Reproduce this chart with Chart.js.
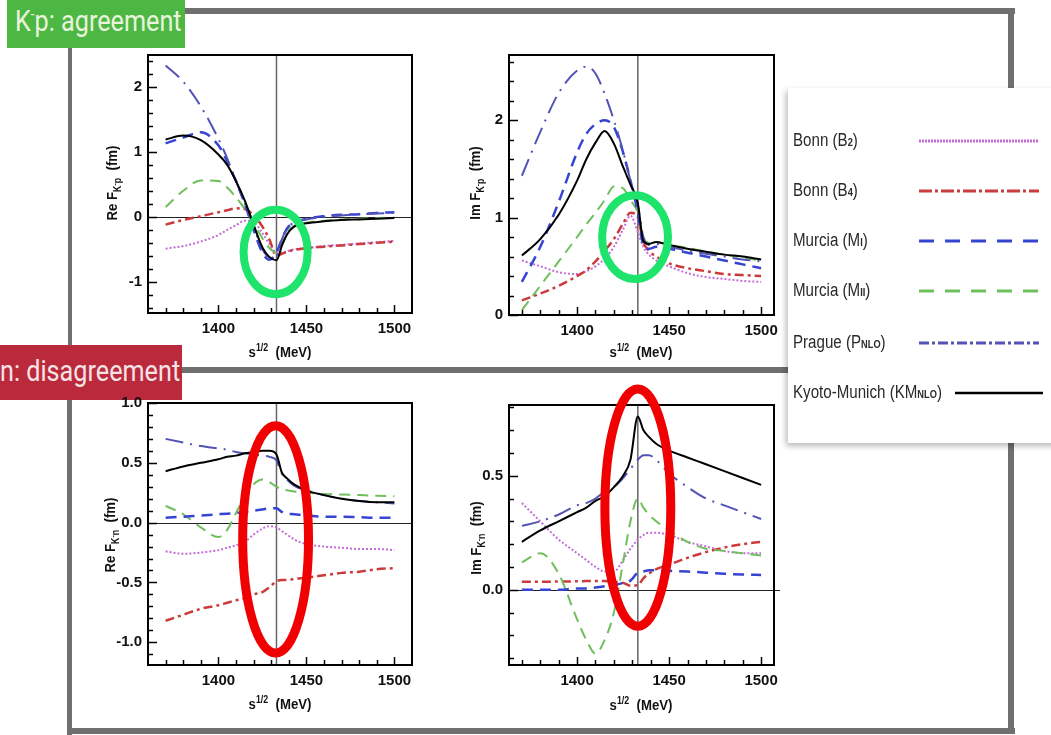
<!DOCTYPE html>
<html>
<head>
<meta charset="utf-8">
<title>K-N amplitudes</title>
<script src="https://cdn.jsdelivr.net/npm/chart.js@4.4.0/dist/chart.umd.min.js"></script>
<style>
  body { margin: 0; width: 1051px; height: 735px; overflow: hidden; background: #fff; position: relative; }
  .bar { position: absolute; background: #6f6f6f; }
  canvas { position: absolute; }
  .badge { position: absolute; overflow: hidden; font-family: Roboto, "Liberation Sans", sans-serif; font-size: 30px; white-space: nowrap; }
  .badge span { position: absolute; transform: scaleX(0.84); transform-origin: 0 0; }
  .ytitle, .xtitle { position: absolute; white-space: nowrap; font: bold 15px "Liberation Sans", Arial, sans-serif; color: #111; }
  .ytitle { transform: translate(-50%, -50%) rotate(-90deg) scaleX(0.88); }
  .xtitle { transform: translate(-50%, -50%) scaleX(0.88); }
  .ytitle sub, .xtitle sup { font-size: 10px; }
  .ytitle sub sup { font-size: 8px; }
  #legend { position: absolute; left: 788px; top: 88px; width: 290px; height: 355px; background: #fff;
            box-shadow: -2px 3px 6px rgba(0,0,0,0.28); }
  #legend .lab { position: absolute; left: 5px; transform: translateY(-50%) scaleX(0.84); transform-origin: 0 50%;
                 white-space: nowrap; font: 18px "Liberation Sans", Arial, sans-serif; color: #2a2a2a; }
  #legend .lab small { font-size: 11px; font-weight: bold; }
  #legend svg { position: absolute; left: 0; top: 0; }
</style>
</head>
<body>

<div class="bar" style="left:185px;top:8px;width:830px;height:6px"></div>
<div class="bar" style="left:1008px;top:8px;width:6px;height:82px"></div>
<div class="bar" style="left:68px;top:48px;width:4px;height:300px"></div>
<div class="bar" style="left:181px;top:367px;width:610px;height:6px"></div>
<div class="bar" style="left:67px;top:399px;width:5px;height:336px"></div>
<div class="bar" style="left:67px;top:728px;width:948px;height:6px"></div>
<div class="bar" style="left:1008px;top:440px;width:6px;height:294px"></div>

<div class="badge" style="left:7px;top:0;width:178px;height:48px;background:#4cb843;color:#eaf4dc">
  <span style="left:8px;top:3px">K<sup style="font-size:16px">-</sup>p: agreement</span>
</div>
<div class="badge" style="left:0;top:345px;width:182px;height:55px;background:#bb2a3c;color:#f6e3e6">
  <span style="left:0;top:8px">n: disagreement</span>
</div>

<canvas id="reKp"></canvas>
<canvas id="imKp"></canvas>
<canvas id="reKn"></canvas>
<canvas id="imKn"></canvas>

<div class="ytitle" style="left:113px;top:183px">Re F<sub>K<sup>-</sup>p</sub>&nbsp;&nbsp;(fm)</div>
<div class="ytitle" style="left:476px;top:183px">Im F<sub>K<sup>-</sup>p</sub>&nbsp;&nbsp;(fm)</div>
<div class="ytitle" style="left:111px;top:535px">Re F<sub>K<sup>-</sup>n</sub>&nbsp;&nbsp;(fm)</div>
<div class="ytitle" style="left:477px;top:538px">Im F<sub>K<sup>-</sup>n</sub>&nbsp;&nbsp;(fm)</div>
<div class="xtitle" style="left:280px;top:351px">s<sup>1/2</sup>&nbsp;&nbsp;(MeV)</div>
<div class="xtitle" style="left:641px;top:351px">s<sup>1/2</sup>&nbsp;&nbsp;(MeV)</div>
<div class="xtitle" style="left:280px;top:703px">s<sup>1/2</sup>&nbsp;&nbsp;(MeV)</div>
<div class="xtitle" style="left:641px;top:704px">s<sup>1/2</sup>&nbsp;&nbsp;(MeV)</div>

<div id="legend"></div>

<script>
// c.m. energy grid (MeV), shared by every curve
const energies = [1370, 1380, 1390, 1400, 1405, 1410, 1415, 1420, 1425, 1429, 1433, 1436, 1439, 1443, 1450, 1460, 1470, 1480, 1490, 1500];
const energyLabels = [1400, 1450, 1500];
const threshold = 1433;

// Re F(K-p), fm
const reKpB2 = [-0.49, -0.45, -0.38, -0.28, -0.2, -0.13, -0.06, -0.08, -0.25, -0.42, -0.55, -0.55, -0.53, -0.5, -0.48, -0.45, -0.43, -0.41, -0.39, -0.37];
const reKpB4 = [-0.12, -0.05, 0.01, 0.07, 0.1, 0.13, 0.12, 0.02, -0.15, -0.35, -0.6, -0.57, -0.54, -0.51, -0.48, -0.46, -0.44, -0.42, -0.4, -0.38];
const reKpMI = [1.13, 1.22, 1.3, 1.1, 0.85, 0.55, 0.2, -0.2, -0.55, -0.66, -0.55, -0.35, -0.18, -0.09, -0.03, 0.01, 0.03, 0.04, 0.06, 0.07];
const reKpMII = [0.15, 0.4, 0.56, 0.55, 0.45, 0.3, 0.12, -0.1, -0.33, -0.48, -0.55, -0.4, -0.24, -0.14, -0.09, -0.06, -0.04, -0.03, -0.02, -0.01];
const reKpP = [2.33, 2.08, 1.7, 1.2, 0.9, 0.55, 0.2, -0.15, -0.5, -0.62, -0.6, -0.35, -0.18, -0.09, -0.04, 0.0, 0.02, 0.04, 0.05, 0.06];
const reKpKM = [1.19, 1.25, 1.18, 0.96, 0.8, 0.55, 0.25, -0.12, -0.47, -0.62, -0.67, -0.45, -0.27, -0.15, -0.1, -0.07, -0.05, -0.04, -0.03, -0.02];

// Im F(K-p), fm
const imKpB2 = [0.56, 0.5, 0.44, 0.42, 0.45, 0.5, 0.58, 0.7, 0.88, 1.02, 0.85, 0.7, 0.62, 0.56, 0.5, 0.43, 0.39, 0.37, 0.35, 0.34];
const imKpB4 = [0.15, 0.22, 0.3, 0.4, 0.46, 0.55, 0.66, 0.78, 0.94, 1.05, 1.0, 0.75, 0.66, 0.6, 0.53, 0.48, 0.45, 0.42, 0.41, 0.4];
const imKpMI = [0.34, 0.7, 1.16, 1.67, 1.86, 1.96, 2.0, 1.93, 1.67, 1.38, 1.05, 0.72, 0.68, 0.7, 0.68, 0.64, 0.6, 0.56, 0.52, 0.48];
const imKpMII = [0.05, 0.3, 0.55, 0.8, 0.93, 1.05, 1.18, 1.32, 1.3, 1.18, 1.05, 0.8, 0.74, 0.75, 0.72, 0.69, 0.65, 0.62, 0.59, 0.56];
const imKpP = [1.43, 1.88, 2.28, 2.51, 2.55, 2.48, 2.27, 2.0, 1.68, 1.38, 1.12, 0.8, 0.72, 0.73, 0.7, 0.66, 0.63, 0.6, 0.57, 0.55];
const imKpKM = [0.61, 0.78, 1.03, 1.38, 1.6, 1.77, 1.89, 1.76, 1.52, 1.34, 1.15, 0.76, 0.73, 0.75, 0.72, 0.68, 0.65, 0.62, 0.6, 0.57];

// Re F(K-n), fm
const reKnB2 = [-0.24, -0.26, -0.25, -0.23, -0.21, -0.19, -0.16, -0.1, -0.05, -0.03, -0.04, -0.07, -0.1, -0.14, -0.18, -0.2, -0.21, -0.22, -0.22, -0.23];
const reKnB4 = [-0.82, -0.77, -0.72, -0.69, -0.67, -0.65, -0.63, -0.6, -0.58, -0.54, -0.49, -0.48, -0.48, -0.47, -0.46, -0.44, -0.42, -0.41, -0.39, -0.38];
const reKnMI = [0.04, 0.05, 0.06, 0.07, 0.075, 0.08, 0.09, 0.1, 0.11, 0.12, 0.12, 0.09, 0.075, 0.07, 0.06, 0.05, 0.05, 0.045, 0.04, 0.04];
const reKnMII = [0.14, 0.07, -0.04, -0.12, -0.06, 0.08, 0.22, 0.32, 0.36, 0.34, 0.3, 0.28, 0.27, 0.26, 0.25, 0.24, 0.235, 0.23, 0.225, 0.22];
const reKnP = [0.7, 0.67, 0.64, 0.62, 0.61, 0.59, 0.58, 0.57, 0.56, 0.55, 0.52, 0.41, 0.36, 0.31, 0.27, 0.23, 0.2, 0.18, 0.17, 0.16];
const reKnKM = [0.43, 0.47, 0.5, 0.53, 0.55, 0.56, 0.58, 0.59, 0.6, 0.6, 0.57, 0.42, 0.37, 0.32, 0.27, 0.23, 0.2, 0.18, 0.17, 0.17];

// Im F(K-n), fm
const imKnB2 = [0.38, 0.3, 0.22, 0.16, 0.13, 0.1, 0.08, 0.08, 0.13, 0.18, 0.22, 0.24, 0.25, 0.25, 0.24, 0.21, 0.19, 0.17, 0.16, 0.16];
const imKnB4 = [0.035, 0.035, 0.036, 0.037, 0.038, 0.038, 0.038, 0.035, 0.03, 0.018, 0.02, 0.05, 0.07, 0.09, 0.11, 0.14, 0.165, 0.185, 0.2, 0.21];
const imKnMI = [0.0, 0.0, 0.0, 0.005, 0.005, 0.01, 0.015, 0.02, 0.03, 0.04, 0.075, 0.08, 0.085, 0.085, 0.083, 0.08, 0.075, 0.07, 0.067, 0.065];
const imKnMII = [0.12, 0.16, 0.07, -0.13, -0.22, -0.28, -0.22, -0.1, 0.12, 0.3, 0.4, 0.36, 0.33, 0.3, 0.26, 0.21, 0.18, 0.17, 0.16, 0.15];
const imKnP = [0.28, 0.3, 0.33, 0.37, 0.38, 0.4, 0.43, 0.45, 0.49, 0.53, 0.57, 0.59, 0.59, 0.57, 0.51, 0.45, 0.4, 0.37, 0.34, 0.31];
const imKnKM = [0.21, 0.26, 0.3, 0.34, 0.36, 0.39, 0.41, 0.45, 0.5, 0.57, 0.76, 0.7, 0.67, 0.64, 0.61, 0.58, 0.55, 0.52, 0.49, 0.46];

// model names and line styles (legend order)
const modelLabels = ['Bonn (B<small>2</small>)', 'Bonn (B<small>4</small>)', 'Murcia (M<small>I</small>)',
                     'Murcia (M<small>II</small>)', 'Prague (P<small>NLO</small>)', 'Kyoto-Munich (KM<small>NLO</small>)'];
const modelColors = ['#c56cd8', '#cc3b3b', '#3644d2', '#6fbf5c', '#5353b5', '#000000'];
const modelWidths = [2, 2.5, 2.5, 2, 2, 2];
const modelDashes = [[2, 2], [9, 4, 3, 4], [11, 7], [11, 7], [18, 7, 2, 7], []];
const legendDashes = [[2, 1], [13, 3, 3, 3], [15, 11], [15, 11], [10, 3, 3, 3], []];
const drawOrder = [5, 4, 2, 3, 1, 0];

const panels = [
  { id: 'reKp', area: { left: 148, top: 55, right: 412, bottom: 313 }, x: [1360, 1510], y: [-1.48, 2.49],
    minor: 0.2, major: 1, digits: 0, series: [reKpB2, reKpB4, reKpMI, reKpMII, reKpP, reKpKM],
    ring: { x: 1432.5, y: -0.54, rx: 18.2, ry: 0.65, color: '#1fe46c', width: 8 }, zeroOver: 0 },
  { id: 'imKp', area: { left: 509, top: 55, right: 774, bottom: 315 }, x: [1363, 1507], y: [0, 2.67],
    minor: 0.2, major: 1, digits: 0, series: [imKpB2, imKpB4, imKpMI, imKpMII, imKpP, imKpKM],
    ring: { x: 1431.5, y: 0.8, rx: 17.9, ry: 0.43, color: '#1fe46c', width: 8 }, zeroOver: 0 },
  { id: 'reKn', area: { left: 148, top: 403, right: 412, bottom: 665 }, x: [1360, 1510], y: [-1.19, 1.0],
    minor: 0.1, major: 0.5, digits: 1, series: [reKnB2, reKnB4, reKnMI, reKnMII, reKnP, reKnKM],
    ring: { x: 1432.5, y: -0.14, rx: 18.7, ry: 0.95, color: '#f00000', width: 9 }, zeroOver: 0 },
  { id: 'imKn', area: { left: 509, top: 405, right: 774, bottom: 665 }, x: [1363, 1507], y: [-0.33, 0.81],
    minor: 0.1, major: 0.5, digits: 1, series: [imKnB2, imKnB4, imKnMI, imKnMII, imKnP, imKnKM],
    ring: { x: 1433, y: 0.36, rx: 17.9, ry: 0.52, color: '#f00000', width: 9 }, zeroOver: 6 }
];

const tickFont = { family: '"Liberation Sans", Arial, sans-serif', size: 15, weight: 'bold' };

function isMultiple(v, step) {
  return Math.abs(v / step - Math.round(v / step)) < 1e-6;
}

function majorValues(min, max, step) {
  const out = [];
  for (let k = Math.ceil(min / step - 1e-6); k <= Math.floor(max / step + 1e-6); k++) out.push(k * step);
  return out;
}

// frame, inward tick marks, zero line, threshold line and highlight ring
const panelDeco = {
  id: 'panelDeco',
  beforeDatasetsDraw(chart, args, opts) {
    const { ctx, chartArea: a, scales: { x, y } } = chart;
    ctx.save();
    ctx.strokeStyle = '#222';
    ctx.lineWidth = 1.2;
    const y0 = Math.round(y.getPixelForValue(0)) + 0.5;
    ctx.beginPath();
    ctx.moveTo(a.left, y0);
    ctx.lineTo(a.right + opts.zeroOver, y0);
    ctx.stroke();
    ctx.strokeStyle = '#666';
    ctx.lineWidth = 1.5;
    const xt = x.getPixelForValue(threshold);
    ctx.beginPath();
    ctx.moveTo(xt, a.top);
    ctx.lineTo(xt, a.bottom);
    ctx.stroke();
    ctx.restore();
  },
  afterDraw(chart, args, opts) {
    const { ctx, chartArea: a, scales: { x, y } } = chart;
    ctx.save();
    ctx.strokeStyle = '#000';
    ctx.lineWidth = 2;
    ctx.strokeRect(a.left, a.top, a.right - a.left, a.bottom - a.top);

    ctx.lineWidth = 1.5;
    ctx.beginPath();
    for (let e = 1370; e <= 1500; e += 10) {
      const px = Math.round(x.getPixelForValue(e)) + 0.5;
      const len = e % 50 === 0 ? 8 : 5;
      ctx.moveTo(px, a.bottom);
      ctx.lineTo(px, a.bottom - len);
    }
    majorValues(y.min, y.max, opts.minor).forEach(v => {
      const py = Math.round(y.getPixelForValue(v)) + 0.5;
      const len = isMultiple(v, opts.major) ? 9 : 5;
      ctx.moveTo(a.left, py);
      ctx.lineTo(a.left + len, py);
    });
    ctx.stroke();

    const r = opts.ring;
    const cx = x.getPixelForValue(r.x);
    const cy = y.getPixelForValue(r.y);
    const rx = x.getPixelForValue(r.x + r.rx) - cx;
    const ry = cy - y.getPixelForValue(r.y + r.ry);
    ctx.strokeStyle = r.color;
    ctx.lineWidth = r.width;
    ctx.beginPath();
    ctx.ellipse(cx, cy, rx, ry, 0, 0, Math.PI * 2);
    ctx.stroke();
    ctx.restore();
  }
};

function buildPanel(p) {
  const padTop = 25, padRight = 12, yw = 40, xh = 30;
  const canvas = document.getElementById(p.id);
  canvas.width = p.area.right - p.area.left + yw + padRight;
  canvas.height = p.area.bottom - p.area.top + padTop + xh;
  canvas.style.left = (p.area.left - yw) + 'px';
  canvas.style.top = (p.area.top - padTop) + 'px';

  const datasets = p.series.map((vals, i) => ({
    label: modelLabels[i],
    data: energies.map((e, j) => ({ x: e, y: vals[j] })),
    borderColor: modelColors[i],
    borderWidth: modelWidths[i],
    borderDash: modelDashes[i],
    pointRadius: 0,
    fill: false,
    cubicInterpolationMode: 'monotone',
    order: drawOrder[i]
  }));

  new Chart(canvas, {
    type: 'line',
    data: { datasets },
    options: {
      responsive: false,
      animation: false,
      events: [],
      layout: { padding: { top: padTop, right: padRight, left: 0, bottom: 0 } },
      scales: {
        x: {
          type: 'linear', min: p.x[0], max: p.x[1],
          afterBuildTicks: s => { s.ticks = energyLabels.map(v => ({ value: v })); },
          afterFit: s => { s.height = xh; },
          grid: { display: false, drawTicks: false },
          border: { display: false },
          ticks: { autoSkip: false, maxRotation: 0, padding: 7, color: '#111', font: tickFont,
                   callback: v => String(v) }
        },
        y: {
          type: 'linear', min: p.y[0], max: p.y[1],
          afterBuildTicks: s => { s.ticks = majorValues(p.y[0], p.y[1], p.major).map(v => ({ value: v })); },
          afterFit: s => { s.width = yw; },
          grid: { display: false, drawTicks: false },
          border: { display: false },
          ticks: { autoSkip: false, padding: 6, color: '#111', font: tickFont,
                   callback: v => v.toFixed(p.digits) }
        }
      },
      plugins: {
        legend: { display: false },
        tooltip: { enabled: false },
        panelDeco: { minor: p.minor, major: p.major, ring: p.ring, zeroOver: p.zeroOver }
      }
    },
    plugins: [panelDeco]
  });
}

panels.forEach(buildPanel);

// legend box with line samples
function buildLegend() {
  const box = document.getElementById('legend');
  const rows = [52, 102, 152, 202, 254, 304];
  const ns = 'http://www.w3.org/2000/svg';
  const svg = document.createElementNS(ns, 'svg');
  svg.setAttribute('width', 290);
  svg.setAttribute('height', 355);
  modelLabels.forEach((label, i) => {
    const div = document.createElement('div');
    div.className = 'lab';
    div.style.top = rows[i] + 'px';
    div.innerHTML = label;
    box.appendChild(div);

    const line = document.createElementNS(ns, 'line');
    const last = i === modelLabels.length - 1;
    line.setAttribute('x1', last ? 167 : 131);
    line.setAttribute('x2', last ? 255 : 251);
    line.setAttribute('y1', rows[i] + 1);
    line.setAttribute('y2', rows[i] + 1);
    line.setAttribute('stroke', modelColors[i]);
    line.setAttribute('stroke-width', last ? 2.5 : 3);
    if (legendDashes[i].length) line.setAttribute('stroke-dasharray', legendDashes[i].join(' '));
    svg.appendChild(line);
  });
  box.appendChild(svg);
}

buildLegend();
</script>
</body>
</html>
